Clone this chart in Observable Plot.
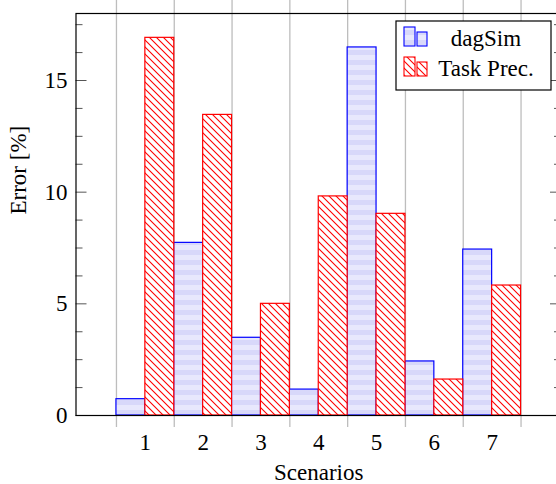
<!DOCTYPE html>
<html><head><meta charset="utf-8">
<script src="https://cdn.jsdelivr.net/npm/d3@7"></script>
<script src="https://cdn.jsdelivr.net/npm/@observablehq/plot@0.6"></script>
<style>html,body{margin:0;padding:0;background:#fff;overflow:hidden}
#chart svg text{font-family:"Liberation Serif","DejaVu Serif",serif !important}</style>
</head><body><div id="chart"></div>
<script>
const scenarios = [1, 2, 3, 4, 5, 6, 7];
const dagSim = [0.73, 7.73, 3.48, 1.16, 16.48, 2.42, 7.43];
const taskPrec = [16.91, 13.46, 5.0, 9.81, 9.03, 1.61, 5.82];
const seriesNames = ["dagSim", "Task Prec."];
const yMajorTicks = [0, 5, 10, 15];
const yMinorTicks = [1.25, 2.5, 3.75, 6.25, 7.5, 8.75, 11.25, 12.5, 13.75, 16.25, 17.5];
const xLabel = "Scenarios";
const yLabel = "Error [%]";

const font = '"Liberation Serif", "DejaVu Serif", serif';
const FS = 23;
const W = 556, H = 484;
const mL = 75.5, mR = -5, mT = 13, mB = 69;
const frameW = W - mR - mL;

const bars = [];
scenarios.forEach((s, i) => {
  bars.push({s, series: seriesNames[0], x1: s - 0.5, x2: s, v: dagSim[i]});
});
scenarios.forEach((s, i) => {
  bars.push({s, series: seriesNames[1], x1: s, x2: s + 0.5, v: taskPrec[i]});
});
const gridX = scenarios.map(s => s - 0.5).concat([scenarios[scenarios.length - 1] + 0.5]);

const plot = Plot.plot({
  width: W, height: H,
  marginLeft: mL, marginRight: mR, marginTop: mT, marginBottom: mB,
  style: {fontFamily: font, fontSize: FS + "px", background: "white", overflow: "hidden"},
  x: {domain: [-0.2, 8.2], range: [mL, W - mR], axis: null},
  y: {domain: [0, 18], range: [H - mB, mT], axis: null},
  marks: [
    Plot.ruleX(gridX, {x: d => d, stroke: "#bdbdbd", strokeWidth: 1.3, insetTop: -13, insetBottom: -12}),
    Plot.rectY(bars.filter(d => d.series === seriesNames[0]), {x1: "x1", x2: "x2", y1: 0, y2: "v", fill: "url(#blueStripes)", stroke: "#0000ff", strokeWidth: 1.2}),
    Plot.rectY(bars.filter(d => d.series === seriesNames[1]), {x1: "x1", x2: "x2", y1: 0, y2: "v", fill: "url(#redHatch)", stroke: "#ff0000", strokeWidth: 1.2}),
    Plot.ruleY(yMajorTicks, {y: d => d, stroke: "#555", strokeWidth: 1, insetRight: frameW - 11}),
    Plot.ruleY(yMinorTicks, {y: d => d, stroke: "#555", strokeWidth: 1, insetRight: frameW - 7}),
    Plot.ruleY(yMajorTicks, {y: d => d, stroke: "#555", strokeWidth: 1, insetLeft: frameW - 11}),
    Plot.ruleY(yMinorTicks, {y: d => d, stroke: "#555", strokeWidth: 1, insetLeft: frameW - 7}),
    Plot.frame({stroke: "black", strokeWidth: 1.2}),
    Plot.axisY(yMajorTicks, {anchor: "left", tickSize: 0, tickPadding: 8.5, label: null, fontSize: FS, fill: "#000"}),
    Plot.text(scenarios, {x: d => d, frameAnchor: "bottom", lineAnchor: "bottom", dy: 34, text: d => String(d), fontSize: FS, fill: "#000"}),
    Plot.text([xLabel], {frameAnchor: "bottom", lineAnchor: "bottom", dy: 64, text: d => d, fontSize: FS, fill: "#000"}),
    Plot.text([yLabel], {frameAnchor: "left", rotate: -90, lineAnchor: "middle", dx: -57.5, text: d => d, fontSize: FS, fill: "#000"})
  ]
});

const svg = d3.select(plot);
const defs = svg.insert("defs", ":first-child");
const bp = defs.append("pattern").attr("id", "blueStripes").attr("patternUnits", "userSpaceOnUse").attr("width", 10).attr("height", 10);
bp.append("rect").attr("width", 10).attr("height", 10).attr("fill", "#e8e8fd");
bp.append("rect").attr("width", 10).attr("height", 5).attr("fill", "#d8d8fa");
const rp = defs.append("pattern").attr("id", "redHatch").attr("patternUnits", "userSpaceOnUse").attr("width", 7).attr("height", 7);
rp.append("rect").attr("width", 7).attr("height", 7).attr("fill", "white");
rp.append("path").attr("d", "M-1,-1L8,8M-1,6L1,8M6,-1L8,1").attr("stroke", "#ff0000").attr("stroke-width", 1.1).attr("fill", "none");

const lg = svg.append("g");
lg.append("rect").attr("x", 396).attr("y", 21).attr("width", 155).attr("height", 69).attr("fill", "white").attr("stroke", "black").attr("stroke-width", 1.2);
const entries = [
  {name: seriesNames[0], fill: "url(#blueStripes)", stroke: "#0000ff", base: 46},
  {name: seriesNames[1], fill: "url(#redHatch)", stroke: "#ff0000", base: 76}
];
entries.forEach(e => {
  lg.append("rect").attr("x", 404).attr("y", e.base - 19).attr("width", 11).attr("height", 19).attr("fill", e.fill).attr("stroke", e.stroke).attr("stroke-width", 1.1);
  lg.append("rect").attr("x", 417).attr("y", e.base - 14).attr("width", 10).attr("height", 14).attr("fill", e.fill).attr("stroke", e.stroke).attr("stroke-width", 1.1);
  lg.append("text").attr("x", 486).attr("y", e.base).attr("text-anchor", "middle").attr("font-size", FS).attr("fill", "#000").text(e.name);
});

document.getElementById("chart").appendChild(plot);
</script>
</body></html>
